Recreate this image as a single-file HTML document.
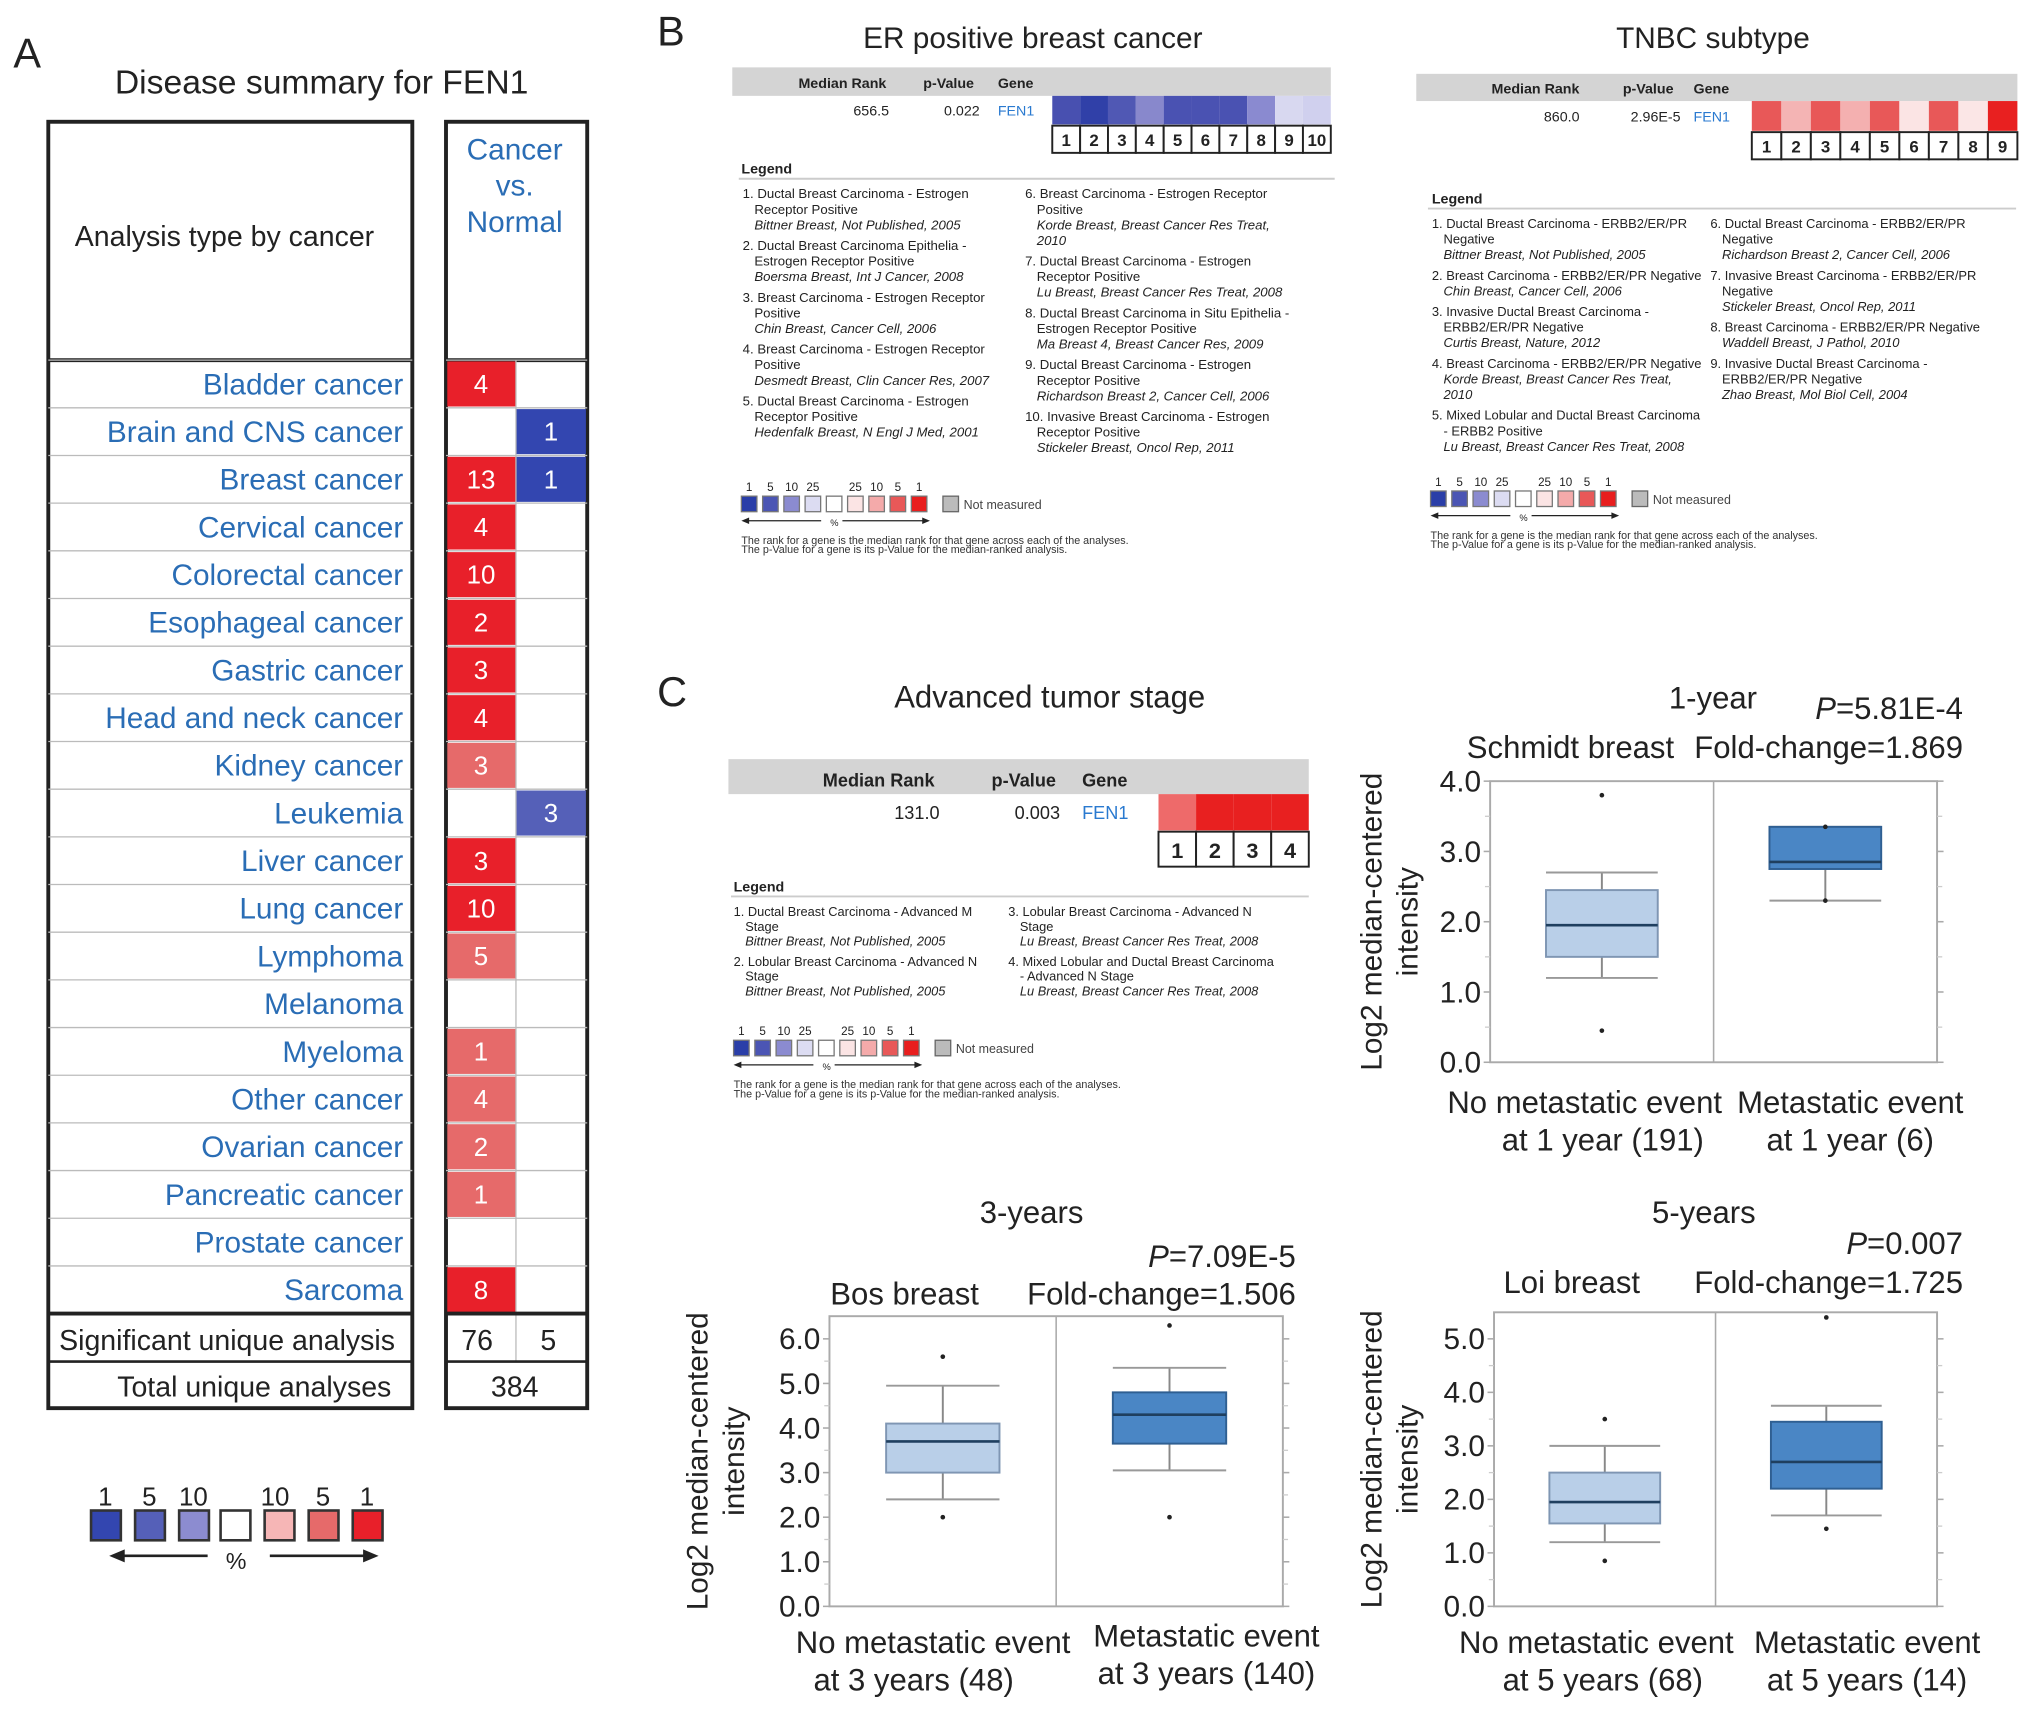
<!DOCTYPE html>
<html><head><meta charset="utf-8">
<style>
html,body{margin:0;padding:0;background:#fff;}
svg{display:block;font-family:"Liberation Sans",Arial,sans-serif;}
</style></head>
<body>
<svg id="fig" width="2032" height="1710" viewBox="0 0 1568 1320" xmlns="http://www.w3.org/2000/svg">
<rect x="0" y="0" width="1568" height="1320" fill="#fff"/>
<g id="root"></g>
</svg>
<script>
// ---------- DATA ----------
const cancers=["Bladder cancer","Brain and CNS cancer","Breast cancer","Cervical cancer","Colorectal cancer","Esophageal cancer","Gastric cancer","Head and neck cancer","Kidney cancer","Leukemia","Liver cancer","Lung cancer","Lymphoma","Melanoma","Myeloma","Other cancer","Ovarian cancer","Pancreatic cancer","Prostate cancer","Sarcoma"];
const upCounts=[4,0,13,4,10,2,3,4,3,0,3,10,5,0,1,4,2,1,0,8];
const upLevel=[2,0,2,2,2,2,2,2,1,0,2,2,1,0,1,1,1,1,0,2];
const downCounts=[0,1,1,0,0,0,0,0,0,3,0,0,0,0,0,0,0,0,0,0];
const downLevel=[0,2,2,0,0,0,0,0,0,1,0,0,0,0,0,0,0,0,0,0];
const erCellColors=["#4850b0","#3040a8","#5058b4","#8888cc","#4a52b2","#4a52b2","#4a52b2","#8a8ad0","#d8d8f0","#d0d0ee"];
const tnbcCellColors=["#e85858","#f4b4b4","#e85858","#f4b0b0","#e85858","#fbe4e4","#e85858","#fbe6e6","#e82020"];
const advCellColors=["#ee6a6a","#e82020","#e82020","#e82020"];
const groupNames=["No metastatic event","Metastatic event"];
const p1Stats=[[0.45,1.2,1.5,1.95,2.45,2.7,3.8],[2.3,2.3,2.75,2.85,3.35,3.35,3.35]];
const p2Stats=[[2.0,2.4,3.0,3.7,4.1,4.95,5.6],[2.0,3.05,3.65,4.3,4.8,5.35,6.3]];
const p3Stats=[[0.85,1.2,1.55,1.95,2.5,3.0,3.5],[1.45,1.7,2.2,2.7,3.45,3.75,5.4]];
const p1Ticks=["0.0","1.0","2.0","3.0","4.0"];
const p2Ticks=["0.0","1.0","2.0","3.0","4.0","5.0","6.0"];
const p3Ticks=["0.0","1.0","2.0","3.0","4.0","5.0"];

// ---------- HELPERS ----------
const NS="http://www.w3.org/2000/svg";
const root=document.getElementById('root');
function el(tag,attrs,parent,text){const e=document.createElementNS(NS,tag);for(const k in attrs)e.setAttribute(k,attrs[k]);if(text!==undefined)e.textContent=text;(parent||root).appendChild(e);return e;}
function txt(x,y,s,size,opts,parent){opts=opts||{};const a={x:x,y:y,'font-size':size,fill:opts.fill||'#222'};if(opts.anchor)a['text-anchor']=opts.anchor;if(opts.weight)a['font-weight']=opts.weight;if(opts.italic)a['font-style']='italic';if(opts.rot)a.transform=opts.rot;const t=el('text',a,parent,s);return t;}
function grp(name){const g=el('g',{});return g;}

// ---------- PANEL A ----------
const gA=grp('panel-a');
txt(10,52,"A",32,{name:'panel-letter-a'},gA);
txt(248,72,"Disease summary for FEN1",26,{anchor:'middle',name:'panel-a-title'},gA);
const rowTop=278,rh=36.8;
el('rect',{x:37,y:94,width:281,height:993,fill:'none',stroke:'#222','stroke-width':3},gA);
el('rect',{x:344,y:94,width:109,height:993,fill:'none',stroke:'#222','stroke-width':3},gA);
el('line',{x1:37,y1:278,x2:318,y2:278,stroke:'#222','stroke-width':3},gA);
el('line',{x1:344,y1:278,x2:453,y2:278,stroke:'#222','stroke-width':3},gA);
txt(173,190,"Analysis type by cancer",22,{anchor:'middle',name:'analysis-type-header'},gA);
txt(397,123,"Cancer",23,{anchor:'middle',fill:'#2a6db5',name:'cancer-vs-normal-header'},gA);
txt(397,151,"vs.",23,{anchor:'middle',fill:'#2a6db5',name:'cancer-vs-normal-header'},gA);
txt(397,179,"Normal",23,{anchor:'middle',fill:'#2a6db5',name:'cancer-vs-normal-header'},gA);
const redC=["#fff","#e66a6a","#e8202a"],blueC=["#fff","#5560b8","#3346b0"];
cancers.forEach((c,i)=>{
  const y=rowTop+i*rh;
  el('line',{x1:37,y1:y,x2:318,y2:y,stroke:'#bbb','stroke-width':1},gA);
  el('line',{x1:344,y1:y,x2:453,y2:y,stroke:'#bbb','stroke-width':1},gA);
  txt(311,y+rh/2+8,c,23,{anchor:'end',fill:'#2a6db5',name:'cancer-row-label'},gA);
  if(upCounts[i]>0){const r=el('rect',{x:345,y:y+1,width:53,height:rh-2,fill:redC[upLevel[i]]},gA);
    txt(371,y+rh/2+7,String(upCounts[i]),20,{anchor:'middle',fill:'#fff',name:'up-count'},gA);}
  if(downCounts[i]>0){const r=el('rect',{x:398,y:y+1,width:54,height:rh-2,fill:blueC[downLevel[i]]},gA);
    txt(425,y+rh/2+7,String(downCounts[i]),20,{anchor:'middle',fill:'#fff',name:'down-count'},gA);}
});
el('line',{x1:398,y1:278,x2:398,y2:1051,stroke:'#bbb','stroke-width':1},gA);
el('line',{x1:37,y1:1014,x2:318,y2:1014,stroke:'#222','stroke-width':3},gA);
el('line',{x1:344,y1:1014,x2:453,y2:1014,stroke:'#222','stroke-width':3},gA);
el('line',{x1:37,y1:1051,x2:318,y2:1051,stroke:'#222','stroke-width':2},gA);
el('line',{x1:344,y1:1051,x2:453,y2:1051,stroke:'#222','stroke-width':2},gA);
txt(175,1042,"Significant unique analysis",22,{anchor:'middle',name:'significant-label'},gA);
txt(196,1078,"Total unique analyses",22,{anchor:'middle',name:'total-label'},gA);
txt(368,1042,"76",22,{anchor:'middle',name:'significant-up'},gA);
txt(423,1042,"5",22,{anchor:'middle',name:'significant-down'},gA);
txt(397,1078,"384",22,{anchor:'middle',name:'total-value'},gA);
// legend A
const legA=["#3346b0","#5560b8","#8c8cd0","#fff","#f6b6b6","#e66a6a","#e8202a"];
const legAx=[70,104,138,170,204,238,272];
legA.forEach((c,i)=>{el('rect',{x:legAx[i],y:1166,width:23,height:23,fill:c,stroke:'#333','stroke-width':2},gA);});
["1","5","10"].forEach((s,i)=>txt(legAx[i]+11,1162,s,20,{anchor:'middle',name:'legend-a-tick'},gA));
["10","5","1"].forEach((s,i)=>txt(legAx[i+4]+11-(i==0?3:0),1162,s,20,{anchor:'middle',name:'legend-a-tick'},gA));
el('line',{x1:92,y1:1201,x2:160,y2:1201,stroke:'#222','stroke-width':2},gA);
el('polygon',{points:'84,1201 96,1196 96,1206',fill:'#222'},gA);
el('line',{x1:208,y1:1201,x2:284,y2:1201,stroke:'#222','stroke-width':2},gA);
el('polygon',{points:'292,1201 280,1196 280,1206',fill:'#222'},gA);
txt(182,1211,"%",18,{anchor:'middle',name:'legend-a-percent'},gA);

// ---------- ONCOMINE TABLE WIDGET ----------
function scale(g,x,y,pitch,sz){
  const cols=["#2a3ea8","#4b55b4","#8b8bd0","#dcdcf2","#fff","#fbe4e4","#f4aaaa","#e85858","#e81e1e"];
  const labs=["1","5","10","25","","25","10","5","1"];
  cols.forEach((c,i)=>{el('rect',{x:x+i*pitch,y:y,width:sz,height:sz,fill:c,stroke:'#777','stroke-width':1},g);
    if(labs[i])txt(x+i*pitch+sz/2,y-4,labs[i],sz*0.75,{anchor:'middle',name:'scale-tick'},g);});
  const nx=x+9*pitch+8;
  el('rect',{x:nx,y:y,width:sz,height:sz,fill:'#bbb',stroke:'#666','stroke-width':1},g);
  txt(nx+sz+4,y+sz-2,"Not measured",sz*0.8,{fill:'#444',name:'not-measured-label'},g);
  const ay=y+sz+7;
  el('line',{x1:x+2,y1:ay,x2:x+4*pitch-4,y2:ay,stroke:'#222','stroke-width':1},g);
  el('polygon',{points:`${x},${ay} ${x+6},${ay-2.5} ${x+6},${ay+2.5}`,fill:'#222'},g);
  el('line',{x1:x+5*pitch-4,y1:ay,x2:x+9*pitch-4,y2:ay,stroke:'#222','stroke-width':1},g);
  el('polygon',{points:`${x+9*pitch-2},${ay} ${x+9*pitch-8},${ay-2.5} ${x+9*pitch-8},${ay+2.5}`,fill:'#222'},g);
  txt(x+4.5*pitch-2,ay+4,"%",sz*0.6,{anchor:'middle',name:'scale-percent'},g);
  txt(x,ay+18,"The rank for a gene is the median rank for that gene across each of the analyses.",8.3,{fill:'#333',name:'footnote'},g);
  txt(x,ay+25,"The p-Value for a gene is its p-Value for the median-ranked analysis.",8.3,{fill:'#333',name:'footnote'},g);
}
function legendCol(g,x,y,items,lh,gap,fs){
  items.forEach(it=>{it.forEach((ln,j)=>{const isI=ln.startsWith('*');const s=isI?ln.slice(1):ln;
    txt(j==0?x:x+9,y,s,fs,{italic:isI,fill:'#222',name:'legend-entry'},g);y+=lh;});y+=gap;});
}
function table(g,o){
  el('rect',{x:o.x0,y:o.y0,width:o.x1-o.x0,height:o.hh,fill:'#d4d4d4'},g);
  const fs=o.fs;
  txt(o.mrX,o.y0+o.hh-6,"Median Rank",fs,{anchor:'middle',weight:'bold',name:'median-rank-header'},g);
  txt(o.pvX,o.y0+o.hh-6,"p-Value",fs,{anchor:'middle',weight:'bold',name:'p-value-header'},g);
  txt(o.gX,o.y0+o.hh-6,"Gene",fs,{weight:'bold',name:'gene-header'},g);
  const vy=o.y0+o.hh+o.ch/2+fs*0.38;
  txt(o.mrV,vy,o.mr,fs,{anchor:'end',name:'median-rank-value'},g);
  txt(o.pvV,vy,o.pv,fs,{anchor:'end',name:'p-value-value'},g);
  txt(o.gX,vy,"FEN1",fs,{fill:'#2a7ad0',name:'gene-link'},g);
  const n=o.colors.length,w=(o.x1-o.cx)/n;
  o.colors.forEach((c,i)=>{const r=el('rect',{x:o.cx+i*w,y:o.y0+o.hh,width:w,height:o.ch,fill:c},g);
    el('rect',{x:o.cx+i*w,y:o.y0+o.hh+o.ch+1,width:w,height:o.nh,fill:'#fff',stroke:'#222','stroke-width':1.5},g);
    txt(o.cx+i*w+w/2,o.y0+o.hh+o.ch+1+o.nh*0.75,String(i+1),o.nh*0.62,{anchor:'middle',weight:'bold',name:'analysis-number'},g);});
}

// ---------- PANEL B ----------
const gB=grp('panel-b');
txt(507,35,"B",32,{name:'panel-letter-b'},gB);
txt(797,37,"ER positive breast cancer",23,{anchor:'middle',name:'er-title'},gB);
table(gB,{x0:565,x1:1027,y0:52,hh:22,fs:11,mrX:650,pvX:732,gX:770,mrV:686,pvV:756,mr:"656.5",pv:"0.022",cx:812,ch:22,nh:21,colors:erCellColors});
txt(572,134,"Legend",11,{weight:'bold',name:'legend-title'},gB);
el('line',{x1:570,y1:138,x2:1030,y2:138,stroke:'#ccc','stroke-width':1.5},gB);
legendCol(gB,573,153,[
 ["1. Ductal Breast Carcinoma - Estrogen","Receptor Positive","*Bittner Breast, Not Published, 2005"],
 ["2. Ductal Breast Carcinoma Epithelia -","Estrogen Receptor Positive","*Boersma Breast, Int J Cancer, 2008"],
 ["3. Breast Carcinoma - Estrogen Receptor","Positive","*Chin Breast, Cancer Cell, 2006"],
 ["4. Breast Carcinoma - Estrogen Receptor","Positive","*Desmedt Breast, Clin Cancer Res, 2007"],
 ["5. Ductal Breast Carcinoma - Estrogen","Receptor Positive","*Hedenfalk Breast, N Engl J Med, 2001"]],12,4,10.2);
legendCol(gB,791,153,[
 ["6. Breast Carcinoma - Estrogen Receptor","Positive","*Korde Breast, Breast Cancer Res Treat,","*2010"],
 ["7. Ductal Breast Carcinoma - Estrogen","Receptor Positive","*Lu Breast, Breast Cancer Res Treat, 2008"],
 ["8. Ductal Breast Carcinoma in Situ Epithelia -","Estrogen Receptor Positive","*Ma Breast 4, Breast Cancer Res, 2009"],
 ["9. Ductal Breast Carcinoma - Estrogen","Receptor Positive","*Richardson Breast 2, Cancer Cell, 2006"],
 ["10. Invasive Breast Carcinoma - Estrogen","Receptor Positive","*Stickeler Breast, Oncol Rep, 2011"]],12,4,10.2);
scale(gB,572,383,16.4,12);

txt(1322,37,"TNBC subtype",23,{anchor:'middle',name:'tnbc-title'},gB);
table(gB,{x0:1093,x1:1557,y0:57,hh:21,fs:11,mrX:1185,pvX:1272,gX:1307,mrV:1219,pvV:1297,mr:"860.0",pv:"2.96E-5",cx:1352,ch:23,nh:21,colors:tnbcCellColors});
txt(1105,157,"Legend",11,{weight:'bold',name:'legend-title'},gB);
el('line',{x1:1102,y1:161,x2:1556,y2:161,stroke:'#ccc','stroke-width':1.5},gB);
legendCol(gB,1105,176,[
 ["1. Ductal Breast Carcinoma - ERBB2/ER/PR","Negative","*Bittner Breast, Not Published, 2005"],
 ["2. Breast Carcinoma - ERBB2/ER/PR Negative","*Chin Breast, Cancer Cell, 2006"],
 ["3. Invasive Ductal Breast Carcinoma -","ERBB2/ER/PR Negative","*Curtis Breast, Nature, 2012"],
 ["4. Breast Carcinoma - ERBB2/ER/PR Negative","*Korde Breast, Breast Cancer Res Treat,","*2010"],
 ["5. Mixed Lobular and Ductal Breast Carcinoma","- ERBB2 Positive","*Lu Breast, Breast Cancer Res Treat, 2008"]],12,4,10);
legendCol(gB,1320,176,[
 ["6. Ductal Breast Carcinoma - ERBB2/ER/PR","Negative","*Richardson Breast 2, Cancer Cell, 2006"],
 ["7. Invasive Breast Carcinoma - ERBB2/ER/PR","Negative","*Stickeler Breast, Oncol Rep, 2011"],
 ["8. Breast Carcinoma - ERBB2/ER/PR Negative","*Waddell Breast, J Pathol, 2010"],
 ["9. Invasive Ductal Breast Carcinoma -","ERBB2/ER/PR Negative","*Zhao Breast, Mol Biol Cell, 2004"]],12,4,10);
scale(gB,1104,379,16.4,12);

// ---------- PANEL C ----------
const gC=grp('panel-c');
txt(507,545,"C",32,{name:'panel-letter-c'},gC);
txt(810,546,"Advanced tumor stage",24,{anchor:'middle',name:'advanced-stage-title'},gC);
table(gC,{x0:562,x1:1010,y0:586,hh:27,fs:14,mrX:678,pvX:790,gX:835,mrV:725,pvV:818,mr:"131.0",pv:"0.003",cx:894,ch:28,nh:27,colors:advCellColors});
txt(566,688,"Legend",11,{weight:'bold',name:'legend-title'},gC);
el('line',{x1:564,y1:692,x2:1010,y2:692,stroke:'#ccc','stroke-width':1.5},gC);
legendCol(gC,566,707,[
 ["1. Ductal Breast Carcinoma - Advanced M","Stage","*Bittner Breast, Not Published, 2005"],
 ["2. Lobular Breast Carcinoma - Advanced N","Stage","*Bittner Breast, Not Published, 2005"]],11.5,4,9.9);
legendCol(gC,778,707,[
 ["3. Lobular Breast Carcinoma - Advanced N","Stage","*Lu Breast, Breast Cancer Res Treat, 2008"],
 ["4. Mixed Lobular and Ductal Breast Carcinoma","- Advanced N Stage","*Lu Breast, Breast Cancer Res Treat, 2008"]],11.5,4,9.9);
scale(gC,566,803,16.4,12);

// ---------- BOX PLOTS ----------
function boxplot(o){
  const g=grp(o.name);
  const y=v=>o.yb-(v/o.vmax)*(o.yb-o.ytop);
  el('rect',{x:o.x0,y:o.yt,width:o.x1-o.x0,height:o.yb-o.yt,fill:'#fff',stroke:'#aaa','stroke-width':1.5},g);
  const mid=(o.x0+o.x1)/2;
  el('line',{x1:mid,y1:o.yt,x2:mid,y2:o.yb,stroke:'#aaa','stroke-width':1.2},g);
  o.ticks.forEach((t,i)=>{const v=parseFloat(t),yy=y(v);
    txt(o.x0-7,yy+8,t,23,{anchor:'end',name:'y-tick-label'},g);
    el('line',{x1:o.x0-5,y1:yy,x2:o.x0,y2:yy,stroke:'#aaa','stroke-width':1.2},g);
    el('line',{x1:o.x1,y1:yy,x2:o.x1+5,y2:yy,stroke:'#aaa','stroke-width':1.2},g);
    if(i<o.ticks.length-1){const y2=y(v+0.5);el('line',{x1:o.x0-4,y1:y2,x2:o.x0,y2:y2,stroke:'#ccc'},g);el('line',{x1:o.x1,y1:y2,x2:o.x1+4,y2:y2,stroke:'#ccc'},g);}
  });
  const cw=(o.x1-o.x0)/2,bw=cw*0.5;
  o.stats.forEach((s,i)=>{
    const cx=o.x0+cw*i+cw/2;
    const fill=i==0?'#b9cfe8':'#4a86c5',st=i==0?'#7f96b3':'#2f5f92';
    el('line',{x1:cx,y1:y(s[1]),x2:cx,y2:y(s[5]),stroke:'#888','stroke-width':1.5},g);
    el('line',{x1:cx-bw/2,y1:y(s[1]),x2:cx+bw/2,y2:y(s[1]),stroke:'#999','stroke-width':1.5},g);
    el('line',{x1:cx-bw/2,y1:y(s[5]),x2:cx+bw/2,y2:y(s[5]),stroke:'#999','stroke-width':1.5},g);
    const b=el('rect',{x:cx-bw/2,y:y(s[4]),width:bw,height:y(s[2])-y(s[4]),fill:fill,stroke:st,'stroke-width':1.5},g);
    
    
    el('line',{x1:cx-bw/2,y1:y(s[3]),x2:cx+bw/2,y2:y(s[3]),stroke:'#1f3f5f','stroke-width':2},g);
    el('circle',{cx:cx,cy:y(s[0]),r:1.8,fill:'#222'},g);
    el('circle',{cx:cx,cy:y(s[6]),r:1.8,fill:'#222'},g);
  });
  const yc=(o.yt+o.yb)/2;
  txt(o.ytx,yc,"Log2 median-centered",23,{anchor:'middle',rot:`rotate(-90 ${o.ytx} ${yc})`,name:'y-axis-title'},g);
  txt(o.ytx+28,yc,"intensity",23,{anchor:'middle',rot:`rotate(-90 ${o.ytx+28} ${yc})`,name:'y-axis-title'},g);
  txt(o.title[1],o.title[2],o.title[0],24,{anchor:'middle',name:'plot-title'},g);
  const pt=el('text',{x:o.rx,y:o.pY,'font-size':24,'text-anchor':'end',fill:'#222'},g);
  
  
  el('tspan',{'font-style':'italic'},pt,'P');el('tspan',{},pt,'='+o.p);
  txt(o.ds[1],o.dsY,o.ds[0],24,{anchor:'middle',name:'dataset-name'},g);
  txt(o.rx,o.dsY,"Fold-change="+o.fc,24,{anchor:'end',name:'fold-change'},g);
  o.xl.forEach(l=>txt(l[1],l[2],l[0],24,{anchor:'middle',name:'x-group-label'},g));
}
boxplot({name:'plot-1-year',x0:1150,x1:1495,yt:603,yb:820,ytop:603,vmax:4,stats:p1Stats,ticks:p1Ticks,ytx:1066,
 title:["1-year",1322,547],p:"5.81E-4",pY:555,rx:1515,ds:["Schmidt breast",1212],dsY:585,fc:"1.869",
 xl:[[groupNames[0],1223,859],["at 1 year (191)",1237,888],[groupNames[1],1428,859],["at 1 year (6)",1428,888]]});
boxplot({name:'plot-3-years',x0:640,x1:990,yt:1016,yb:1240,ytop:1033.5,vmax:6,stats:p2Stats,ticks:p2Ticks,ytx:546,
 title:["3-years",796,944],p:"7.09E-5",pY:978,rx:1000,ds:["Bos breast",698],dsY:1007,fc:"1.506",
 xl:[[groupNames[0],720,1276],["at 3 years (48)",705,1305],[groupNames[1],931,1271],["at 3 years (140)",931,1300]]});
boxplot({name:'plot-5-years',x0:1153,x1:1495,yt:1013,yb:1240,ytop:1033.5,vmax:5,stats:p3Stats,ticks:p3Ticks,ytx:1066,
 title:["5-years",1315,944],p:"0.007",pY:968,rx:1515,ds:["Loi breast",1213],dsY:998,fc:"1.725",
 xl:[[groupNames[0],1232,1276],["at 5 years (68)",1237,1305],[groupNames[1],1441,1276],["at 5 years (14)",1441,1305]]});
</script>
</body></html>
